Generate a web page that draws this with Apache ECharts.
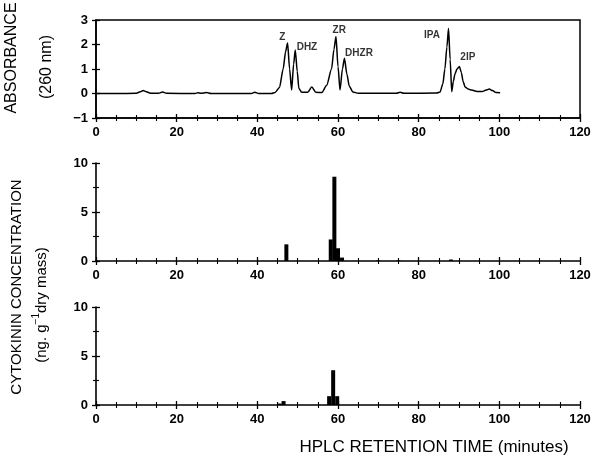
<!DOCTYPE html>
<html><head><meta charset="utf-8">
<script src="https://cdn.jsdelivr.net/npm/echarts@6/dist/echarts.min.js"></script>
<style>html,body{margin:0;padding:0;background:#fff}#c{width:594px;height:458px}</style>
</head><body><div id="c"></div>
<script>
// ---- data ----
const xMin = 0, xMax = 120, xStep = 20;
const absTicks = [-1, 0, 1, 2, 3];
const concTicks = [0, 5, 10];

// UV absorbance trace (260 nm) vs retention time (min)
const absTime  = [0,5,10,11,11.7,12.5,13.5,15.5,16.5,17.5,24.5,25.3,26,27.4,28.5,38.5,39.4,40.3,43.5,44.4,45.5,46.4,47.0,47.5,48.0,48.5,49.0,49.4,49.9,50.3,51,52.5,53.5,54.5,56,57.2,58.4,59.0,59.5,60.0,60.5,61.1,61.6,62.2,62.8,63.7,65,74.5,75.4,76.3,84.5,85.3,86.0,86.5,87.0,87.4,87.8,88.2,88.6,89.0,89.5,90.1,90.6,91.0,91.5,92.3,93.1,94.5,95.8,96.7,97.5,98.3,99.2,100.2];
const absValue = [0,0,0.01,0.07,0.12,0.07,0.01,0.01,0.06,0.01,0,0.03,0.01,0.04,0,0,0.05,0,0,0.04,0.25,1.0,1.7,2.06,1.0,0.14,1.2,1.78,0.9,0.2,0.05,0.05,0.27,0.05,0.04,0.34,1.0,1.8,2.33,1.1,0.14,1.0,1.44,0.8,0.3,0.06,0.01,0.01,0.05,0.01,0.02,0.06,0.4,1.0,1.9,2.65,1.4,0.07,0.5,0.8,1.0,1.1,0.85,0.5,0.27,0.18,0.14,0.08,0.08,0.14,0.18,0.12,0.04,0.03];

// peak annotations (label anchor in data units)
const peakNames    = ['Z', 'DHZ', 'ZR', 'DHZR', 'IPA', '2IP'];
const peakLabelX   = [46.2, 52.3, 60.3, 65.2, 83.3, 92.2];
const peakLabelY   = [2.29, 1.89, 2.6, 1.65, 2.39, 1.47];

// cytokinin concentration (ng g-1 dry mass) in collected fractions
const fracTimeA = [47.2, 58.2, 59.1, 60.0, 61.0, 70, 75, 88];
const fracConcA = [1.7, 2.2, 8.6, 1.3, 0.35, 0.05, 0.05, 0.15];
const fracTimeB = [45.5, 46.5, 57.8, 58.8, 59.8];
const fracConcB = [0.15, 0.4, 0.9, 3.55, 0.9];

// ---- chart ----
const FONT = 'Liberation Sans, Arial, sans-serif';
const pair = (xs, ys) => xs.map((x, i) => [x, ys[i]]);

const grids = [
  {left: 96, right: 14, top: 20, height: 98, show: true, borderColor: '#000', borderWidth: 1.5, backgroundColor: 'transparent', containLabel: false, outerBoundsMode: 'none'},
  {left: 96, right: 14, top: 163, height: 98, show: false, containLabel: false, outerBoundsMode: 'none'},
  {left: 96, right: 14, top: 307, height: 98, show: false, containLabel: false, outerBoundsMode: 'none'}
];

function xAx(gi, inside) {
  return {
    type: 'value', gridIndex: gi, min: xMin, max: xMax, interval: xStep, position: 'bottom',
    axisLine: {show: !inside, onZero: false, lineStyle: {color: '#000', width: 1.6}},
    axisTick: {show: true, inside: inside, length: 4, lineStyle: {color: '#000', width: 1.3}},
    minorTick: {show: true, splitNumber: 4, length: 3, lineStyle: {color: '#000', width: 1.1}},
    axisLabel: {show: !inside, color: '#000', fontSize: 13, fontWeight: 'bold', margin: 8, fontFamily: FONT},
    splitLine: {show: false}, minorSplitLine: {show: false}
  };
}
function yAx(gi, inside, lo, hi, step, minorN, ticks) {
  return {
    type: 'value', gridIndex: gi, min: lo, max: hi, interval: step, position: 'left',
    axisLine: {show: !inside, onZero: false, lineStyle: {color: '#000', width: 1.6}},
    axisTick: {show: true, inside: inside, length: 4, lineStyle: {color: '#000', width: 1.3}},
    minorTick: {show: minorN > 1, splitNumber: minorN, length: 3, lineStyle: {color: '#000', width: 1.1}},
    axisLabel: {show: !inside, color: '#000', fontSize: 13, fontWeight: 'bold', margin: 8, fontFamily: FONT,
      formatter: v => (ticks.indexOf(v) >= 0 ? (v < 0 ? '\u2212' + Math.abs(v) : String(v)) : '')},
    splitLine: {show: false}, minorSplitLine: {show: false}
  };
}

const option = {
  animation: false,
  backgroundColor: '#fff',
  grid: grids,
  xAxis: [xAx(0, false), xAx(0, true), xAx(1, false), xAx(1, true), xAx(2, false), xAx(2, true)],
  yAxis: [
    yAx(0, false, -1, 3, 1, 1, absTicks), yAx(0, true, -1, 3, 1, 1, absTicks),
    yAx(1, false, 0, 10, 5, 2, concTicks), yAx(1, true, 0, 10, 5, 2, concTicks),
    yAx(2, false, 0, 10, 5, 2, concTicks), yAx(2, true, 0, 10, 5, 2, concTicks)
  ],
  series: [
    {type: 'line', xAxisIndex: 0, yAxisIndex: 0, data: pair(absTime, absValue), showSymbol: false,
     smooth: 0.25, smoothMonotone: 'x', lineStyle: {color: '#000', width: 1.5}, silent: true},
    {type: 'scatter', xAxisIndex: 0, yAxisIndex: 0, symbolSize: 0, silent: true,
     data: peakLabelX.map((x, i) => ({value: [x, peakLabelY[i]], name: peakNames[i]})),
     label: {show: true, position: 'inside', formatter: p => p.name, color: '#000', fontSize: 10, fontWeight: 'bold', fontFamily: FONT}},
    {type: 'bar', xAxisIndex: 2, yAxisIndex: 2, data: pair(fracTimeA, fracConcA), barWidth: 4,
     itemStyle: {color: '#000'}, silent: true},
    {type: 'bar', xAxisIndex: 4, yAxisIndex: 4, data: pair(fracTimeB, fracConcB), barWidth: 4,
     itemStyle: {color: '#000'}, silent: true}
  ],
  graphic: [
    {type: 'text', x: 12, y: 58, rotation: Math.PI / 2,
     style: {text: 'ABSORBANCE', font: '16px ' + FONT, fill: '#000', align: 'center', verticalAlign: 'middle'}},
    {type: 'text', x: 47, y: 67, rotation: Math.PI / 2,
     style: {text: '(260 nm)', font: '16px ' + FONT, fill: '#000', align: 'center', verticalAlign: 'middle'}},
    {type: 'text', x: 17, y: 287, rotation: Math.PI / 2,
     style: {text: 'CYTOKININ CONCENTRATION', font: '15px ' + FONT, fill: '#000', align: 'center', verticalAlign: 'middle'}},
    {type: 'text', x: 42, y: 305, rotation: Math.PI / 2,
     style: {text: '{a|(ng. g}{s|\u22121}{a|dry mass)}', fill: '#000', align: 'center', verticalAlign: 'middle',
       rich: {a: {fontSize: 15, fontFamily: FONT, lineHeight: 22, fill: '#000'},
              s: {fontSize: 10, fontFamily: FONT, lineHeight: 10, verticalAlign: 'top', fill: '#000'}}}},
    {type: 'text', x: 434, y: 447,
     style: {text: 'HPLC RETENTION TIME (minutes)', font: '17px ' + FONT, fill: '#000', align: 'center', verticalAlign: 'middle'}}
  ]
};

const chart = echarts.init(document.getElementById('c'), null, {renderer: 'canvas'});
chart.setOption(option);
</script>
</body></html>
